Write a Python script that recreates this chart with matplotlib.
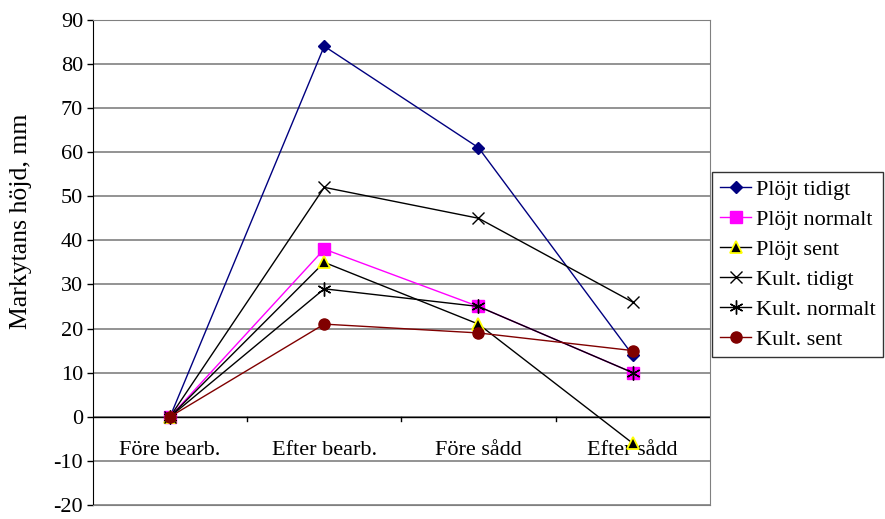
import matplotlib
matplotlib.use("Agg")
from matplotlib import pyplot as plt

plt.rcParams['font.family'] = ['Liberation Serif', 'DejaVu Serif']
plt.rcParams['axes.unicode_minus'] = False

categories = ["Före bearb.", "Efter bearb.", "Före sådd", "Efter sådd"]

plojt_tidigt = [0, 84, 61, 14]
plojt_normalt = [0, 38, 25, 10]
plojt_sent = [0, 35, 21, -6]
kult_tidigt = [0, 52, 45, 26]
kult_normalt = [0, 29, 25, 10]
kult_sent = [0, 21, 19, 15]

series = [
    ("Plöjt tidigt", plojt_tidigt, dict(color="#000080", marker="D", ms=6, mfc="#000080", mec="#000080")),
    ("Plöjt normalt", plojt_normalt, dict(color="#ff00ff", marker="s", ms=8, mfc="#ff00ff", mec="#ff00ff")),
    ("Plöjt sent", plojt_sent, dict(color="black", marker="^", ms=8, mfc="black", mec="yellow", mew=1.3)),
    ("Kult. tidigt", kult_tidigt, dict(color="black", marker="x", ms=8, mec="black")),
    ("Kult. normalt", kult_normalt, dict(color="black", marker=(6, 2, 0), ms=10, mec="black")),
    ("Kult. sent", kult_sent, dict(color="#800000", marker="o", ms=8, mfc="#800000", mec="#800000")),
]

fs = 16

fig = plt.figure(figsize=(8.85, 5.19), dpi=100)
ax = fig.add_axes([0.105, 0.027, 0.697, 0.935])

x = list(range(len(categories)))
for name, vals, style in series:
    ax.plot(x, vals, lw=1, label=name, zorder=3, **style)

ax.set_xlim(-0.5, 3.5)
ax.set_ylim(-20, 90)
ax.set_yticks(range(-20, 91, 10))
ax.tick_params(axis="y", labelsize=fs, direction="out", length=4, width=1, pad=3)
ax.set_ylabel("Markytans höjd, mm", fontsize=18.5, va="center")
ax.yaxis.set_label_coords(-0.117, 0.585)
ax.grid(axis="y", color="#808080", lw=1.2, zorder=0)

ax.set_xticks([])
for s in ["top", "right", "bottom"]:
    ax.spines[s].set_color("#808080")
ax.spines["left"].set_color("black")

# category axis at zero
ax.axhline(0, color="black", lw=1, zorder=2)
for b in [0.5, 1.5, 2.5]:
    ax.plot([b, b], [0, -1.0], color="black", lw=1, zorder=2)
for i, c in enumerate(categories):
    ax.text(i, -7.6, c, ha="center", va="center", fontsize=fs, zorder=1)

ax.legend(loc="upper left", bbox_to_anchor=(0.805, 0.669), bbox_transform=fig.transFigure,
          fontsize=fs, frameon=True, fancybox=False, edgecolor="black",
          handlelength=1.4, handletextpad=0.2, borderpad=0.35, labelspacing=0.42,
          borderaxespad=0)

fig.savefig("out.png", dpi=100)
